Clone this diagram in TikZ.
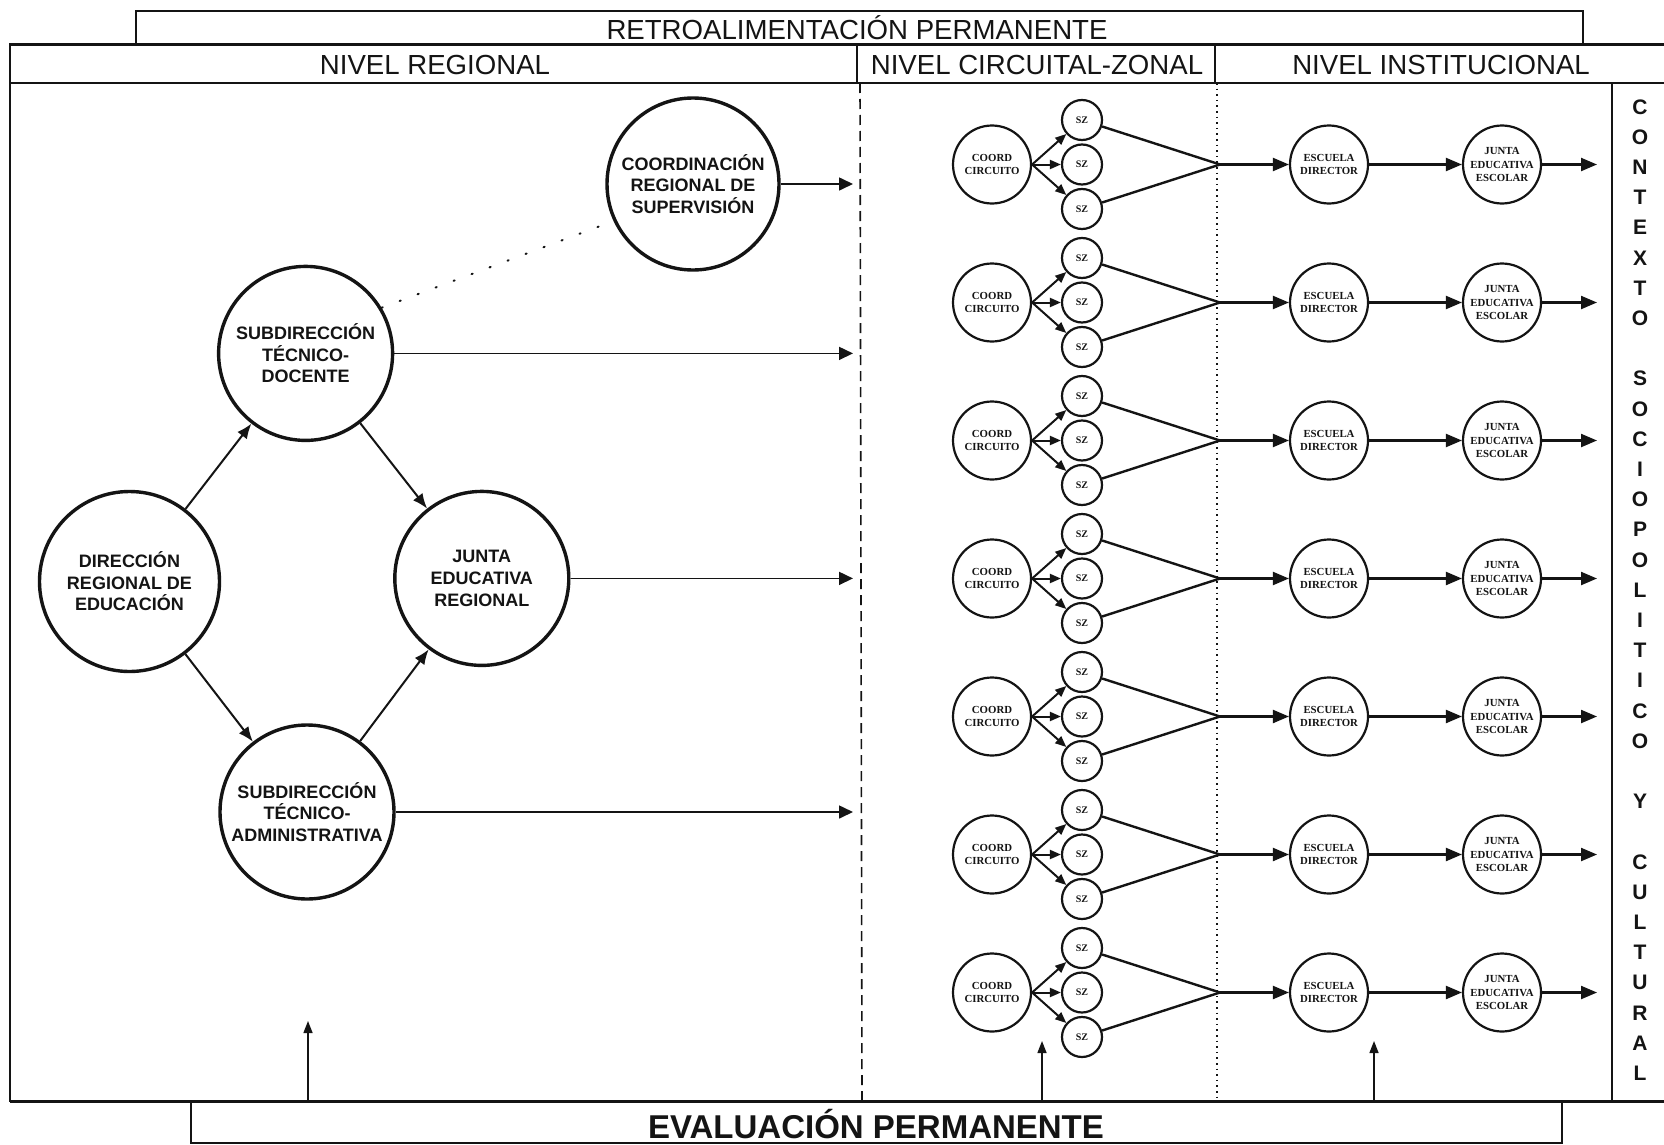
\documentclass[tikz,border=0pt]{standalone}
\usepackage{fontspec}
\setmainfont{Liberation Sans}
\newfontfamily\smallserif{Liberation Serif}
\usetikzlibrary{arrows.meta, positioning}
\definecolor{ink}{HTML}{141414}
\definecolor{paper}{HTML}{FFFFFF}
\tikzset{
  frame/.style={draw=ink, line width=1.1pt},
  band/.style={inner sep=0pt, text=ink, font=\fontsize{13.8}{16}\selectfont},
  bandbold/.style={band, font=\bfseries\fontsize{16.5}{19}\selectfont},
  regional/.style={
    circle,
    draw=ink,
    line width=1.7pt,
    minimum size=87pt,
    inner sep=0pt,
    align=center,
    text=ink,
    font=\bfseries\fontsize{9}{10.8}\selectfont
  },
  unit/.style={circle, draw=ink, line width=1.1pt, minimum size=39pt, inner sep=0pt,
    align=center, text=ink, font=\smallserif\bfseries\fontsize{5.4}{6.6}\selectfont},
  sz/.style={unit, minimum size=20pt, font=\smallserif\bfseries\fontsize{5}{6}\selectfont},
  ctx/.style={inner sep=0pt, align=center, text=ink, font=\bfseries\fontsize{10.5}{15.1}\selectfont},
  arrow/.style={-{Latex[length=7.5pt, width=6pt]}, line width=1pt, draw=ink},
  reach/.style={-{Triangle[length=7pt, width=6.5pt]}, line width=0.8pt, draw=ink},
  flow/.style={-{Triangle[length=8pt, width=6.5pt]}, line width=1.1pt, draw=ink},
  fanout/.style={-{Triangle[length=5.5pt, width=4.5pt]}, line width=1pt, draw=ink},
  merging/.style={line width=1.2pt, draw=ink},
  rise/.style={-{Triangle[length=6pt, width=4.5pt]}, line width=0.7pt, draw=ink}
}

\begin{document}
\begin{tikzpicture}[x=0.5pt, y=-0.5pt]

\fill[paper] (0,0) rectangle (1664,1145);
\useasboundingbox (0,0) rectangle (1664,1145);

% outer frame and bands
\draw[frame] (136,44.6) |- (1583,11) -- (1583,44.6);
\draw[frame] (1664,44.6) -| (10,1101.5);
\draw[frame, line width=1.6pt] (10,1101.5) -- (1664,1101.5);
\draw[frame] (10,83) -- (1664,83);
\draw[frame] (857,44.6) -- (857,83);
\draw[frame] (1215,44.6) -- (1215,83);
\draw[frame] (191,1101.5) |- (1562,1143) -- (1562,1101.5);
\draw[draw=ink, line width=0.8pt, dash pattern=on 5pt off 3pt] (860,83) -- (862,1101.5);
\draw[draw=ink, line width=0.8pt, dotted] (1217,83) -- (1217,1101.5);
\draw[frame] (1612,83) -- (1612,1101.5);

\node[band] (retro) at (857,28) {RETROALIMENTACIÓN PERMANENTE};
\node[band] (regionhead) at (435,64.5) {NIVEL REGIONAL};
\node[band] (circuithead) at (1037,64.5) {NIVEL CIRCUITAL-ZONAL};
\node[band] (insthead) at (1441,64.5) {NIVEL INSTITUCIONAL};
\node[bandbold] (evaluacion) at (876,1124) {EVALUACIÓN PERMANENTE};

\node[ctx] (contexto) at (1640,590) {C\\O\\N\\T\\E\\X\\T\\O\\[15.1pt]S\\O\\C\\I\\O\\P\\O\\L\\I\\T\\I\\C\\O\\[15.1pt]Y\\[15.1pt]C\\U\\L\\T\\U\\R\\A\\L};

% regional level
\node[regional, minimum size=90pt] (direccion) at (129.5,581.5) {DIRECCIÓN\\REGIONAL DE\\EDUCACIÓN};
\node[regional] (subdocente) at (305.6,353.4) {SUBDIRECCIÓN\\TÉCNICO-\\DOCENTE};
\node[regional] (juntareg) at (481.8,578.4) {JUNTA\\EDUCATIVA\\REGIONAL};
\node[regional] (subadmin) at (307,812) {SUBDIRECCIÓN\\TÉCNICO-\\ADMINISTRATIVA};
\node[regional, minimum size=86pt] (coordsup) at (693,184) {COORDINACIÓN\\REGIONAL DE\\SUPERVISIÓN};

\coordinate (limit) at (853,0);

\draw[arrow] (direccion) -- (subdocente);
\draw[arrow] (direccion) -- (subadmin);
\draw[arrow] (subdocente) -- (juntareg);
\draw[arrow] (subadmin) -- (juntareg);
\draw[draw=ink, line width=1pt, line cap=round, dash pattern=on 0.6pt off 9pt] (subdocente.31) -- (coordsup.205);

\draw[reach] (coordsup) -- (coordsup -| limit);
\draw[reach] (subdocente) -- (subdocente -| limit);
\draw[reach] (juntareg) -- (juntareg -| limit);
\draw[reach] (subadmin) -- (subadmin -| limit);

% circuit and institutional levels
\foreach \r [evaluate=\r as \yy using 164.5+138*(\r-1)] in {1,...,7} {
  \node[unit] (coord\r) at (992,\yy) {COORD\\CIRCUITO};
  \node[sz] (sza\r) at (1082,\yy-44.5) {SZ};
  \node[sz] (szb\r) at (1082,\yy) {SZ};
  \node[sz] (szc\r) at (1082,\yy+44.5) {SZ};
  \coordinate (merge\r) at (1220,\yy);
  \node[unit] (escuela\r) at (1329,\yy) {ESCUELA\\DIRECTOR};
  \node[unit] (junta\r) at (1502,\yy) {JUNTA\\EDUCATIVA\\ESCOLAR};
  \coordinate (out\r) at (1597,\yy);
  \draw[fanout] (coord\r.east) -- (sza\r);
  \draw[fanout] (coord\r.east) -- (szb\r);
  \draw[fanout] (coord\r.east) -- (szc\r);
  \draw[merging] (sza\r) -- (merge\r);
  \draw[merging] (szc\r) -- (merge\r);
  \draw[flow] (merge\r) -- (escuela\r);
  \draw[flow] (escuela\r) -- (junta\r);
  \draw[flow] (junta\r) -- (out\r);
}

% evaluation feedback
\coordinate (evalA) at (308,1101.5);
\coordinate (evalB) at (1042,1101.5);
\coordinate (evalC) at (1374,1101.5);
\coordinate (upA) at (308,1021);
\coordinate (upB) at (1042,1041);
\coordinate (upC) at (1374,1041);
\draw[rise] (evalA) -- (upA);
\draw[rise] (evalB) -- (upB);
\draw[rise] (evalC) -- (upC);

\end{tikzpicture}
\end{document}
